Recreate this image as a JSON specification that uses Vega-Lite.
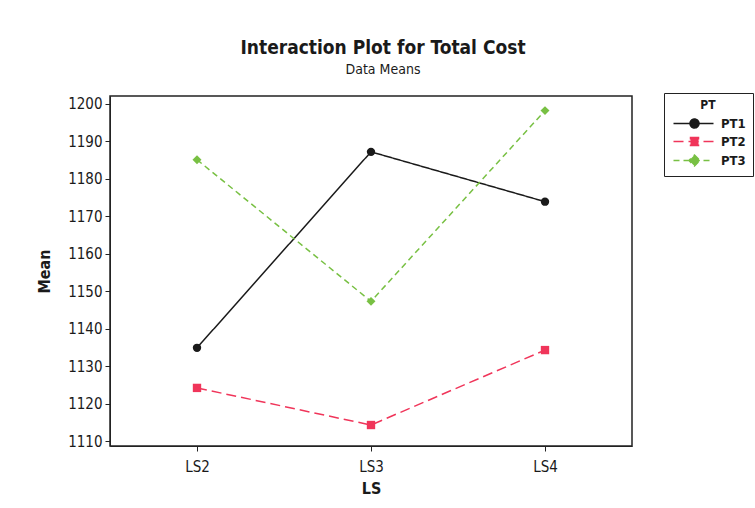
{
  "$schema": "https://vega.github.io/schema/vega-lite/v6.json",
  "autosize": {"type": "none"},
  "width": 522,
  "height": 350,
  "padding": {"left": 110, "top": 96, "right": 123, "bottom": 62},
  "background": "white",
  "title": {
    "text": "Interaction Plot for Total Cost",
    "subtitle": "Data Means",
    "font": "DejaVu Sans Condensed",
    "fontSize": 19,
    "fontWeight": "bold",
    "color": "#1a1a1a",
    "subtitleFont": "DejaVu Sans Condensed",
    "subtitleFontSize": 14,
    "subtitleColor": "#1a1a1a",
    "subtitlePadding": 5,
    "anchor": "middle",
    "dx": 12,
    "offset": 16
  },
  "config": {
    "view": {"stroke": "#222", "strokeWidth": 1.5, "fill": "white"},
    "axis": {
      "labelFont": "DejaVu Sans Condensed",
      "labelFontSize": 15,
      "labelColor": "#1a1a1a",
      "titleFont": "DejaVu Sans Condensed",
      "titleFontSize": 16,
      "titleFontWeight": "bold",
      "titleColor": "#1a1a1a",
      "domainColor": "#222",
      "tickColor": "#222",
      "tickSize": 5,
      "grid": false
    },
    "legend": {
      "symbolStrokeWidth": 1.5
    }
  },
  "data": {
    "values": [
      {"LS": "LS2", "PT": "PT1", "Mean": 1134.9},
      {"LS": "LS3", "PT": "PT1", "Mean": 1187.2},
      {"LS": "LS4", "PT": "PT1", "Mean": 1173.9},
      {"LS": "LS2", "PT": "PT2", "Mean": 1124.2},
      {"LS": "LS3", "PT": "PT2", "Mean": 1114.3},
      {"LS": "LS4", "PT": "PT2", "Mean": 1134.3},
      {"LS": "LS2", "PT": "PT3", "Mean": 1185.1},
      {"LS": "LS3", "PT": "PT3", "Mean": 1147.3},
      {"LS": "LS4", "PT": "PT3", "Mean": 1198.2}
    ]
  },
  "encoding": {
    "x": {
      "field": "LS",
      "type": "ordinal",
      "scale": {"type": "point", "padding": 0.5},
      "axis": {"labelAngle": 0, "title": "LS", "labelPadding": 8, "titlePadding": 6}
    },
    "y": {
      "field": "Mean",
      "type": "quantitative",
      "scale": {"domain": [1108.7, 1202.1], "nice": false, "zero": false},
      "axis": {"values": [1110, 1120, 1130, 1140, 1150, 1160, 1170, 1180, 1190, 1200], "format": "d", "title": "Mean", "titlePadding": 15, "labelPadding": 3}
    },
    "color": {
      "field": "PT",
      "type": "nominal",
      "scale": {"domain": ["PT1", "PT2", "PT3"], "range": ["#1a1a1a", "#f0355a", "#78c043"]},
      "legend": {
        "orient": "none",
        "legendX": 554,
        "legendY": -3,
        "title": "PT",
        "titleFont": "DejaVu Sans Condensed",
        "titleFontSize": 12,
        "titleFontWeight": "bold",
        "titleColor": "#1a1a1a",
        "titleAnchor": "middle",
        "labelFont": "DejaVu Sans Condensed",
        "labelFontSize": 13,
        "labelFontWeight": "bold",
        "labelColor": "#1a1a1a",
        "labelOffset": 37,
        "strokeColor": "#222",
        "fillColor": "white",
        "padding": 7,
        "symbolSize": 100,
        "symbolStrokeWidth": 1.5,
        "symbolOpacity": 1,
        "rowPadding": 3
      }
    }
  },
  "layer": [
    {
      "mark": {"type": "line", "strokeWidth": 1.5},
      "encoding": {
        "strokeDash": {
          "field": "PT",
          "type": "nominal",
          "scale": {"domain": ["PT1", "PT2", "PT3"], "range": [[1, 0], [10, 5], [6, 4]]},
          "legend": null
        }
      }
    },
    {
      "transform": [{"filter": "datum.PT === 'PT1'"}],
      "mark": {"type": "point", "filled": true, "opacity": 1, "size": 70, "shape": "circle"}
    },
    {
      "transform": [{"filter": "datum.PT === 'PT2'"}],
      "mark": {"type": "point", "filled": true, "opacity": 1, "size": 70, "shape": "square"}
    },
    {
      "transform": [{"filter": "datum.PT === 'PT3'"}],
      "mark": {"type": "point", "filled": true, "opacity": 1, "size": 80, "shape": "diamond"}
    },
    {
      "transform": [{"filter": "datum.PT === 'none'"}],
      "mark": {"type": "point", "filled": true, "opacity": 1},
      "encoding": {
        "shape": {
          "field": "PT",
          "type": "nominal",
          "scale": {
            "domain": ["PT1", "PT2", "PT3"],
            "range": [
              "M-0.8,0L7.2,0M2.5,0A0.9,0.9 0 1,0 4.3,0A0.9,0.9 0 1,0 2.5,0Z",
              "M-0.8,0L7.2,0M2.6,-0.8L4.2,-0.8L4.2,0.8L2.6,0.8Z",
              "M-0.8,0L7.2,0M3.4,-1.1L4.5,0L3.4,1.1L2.3,0Z"
            ]
          }
        }
      }
    }
  ]
}
